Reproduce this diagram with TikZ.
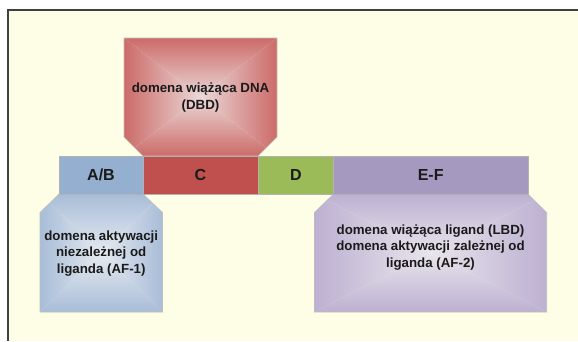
\documentclass[tikz,border=0pt]{standalone}
\usepackage{fontspec}
\setmainfont{Liberation Sans}
\definecolor{bgy}{HTML}{FEFEE6}
\definecolor{framec}{HTML}{404040}
\definecolor{txt}{HTML}{1A1A1A}
\definecolor{abcol}{HTML}{94AFCF}
\definecolor{ccol}{HTML}{C0504D}
\definecolor{dcol}{HTML}{9BBB59}
\definecolor{efcol}{HTML}{A699C0}
\definecolor{redin}{HTML}{EAD8D8}
\definecolor{redout}{HTML}{CC6B68}
\definecolor{bluein}{HTML}{E6EAF0}
\definecolor{blueout}{HTML}{A8BDD8}
\definecolor{purin}{HTML}{E8E5EC}
\definecolor{purout}{HTML}{BDB0D1}
% pyramid (rectangular path) gradient: x1 y1 x2 y2 inner outer clip-path
\newcommand\pyrshade[7]{%
  \begin{scope}
    \clip #7;
    \shade[top color=#6, bottom color=#5] (#1,#2) -- (#3,#2) -- ({(#1+#3)/2},{(#2+#4)/2}) -- cycle;
    \shade[top color=#5, bottom color=#6] (#1,#4) -- (#3,#4) -- ({(#1+#3)/2},{(#2+#4)/2}) -- cycle;
    \shade[left color=#6, right color=#5] (#1,#2) -- (#1,#4) -- ({(#1+#3)/2},{(#2+#4)/2}) -- cycle;
    \shade[left color=#5, right color=#6] (#3,#2) -- (#3,#4) -- ({(#1+#3)/2},{(#2+#4)/2}) -- cycle;
  \end{scope}}
\begin{document}
\begin{tikzpicture}[x=1pt,y=-1pt,
  lbl/.style={font=\bfseries\fontsize{16}{19}\selectfont, text=txt},
  desc/.style={font=\bfseries\fontsize{13.3}{16.5}\selectfont, text=txt, align=center},
  seg/.style={draw=black!30, line width=0.6pt},
  dom/.style={draw=black!25, line width=0.6pt},
]
\useasboundingbox (0,0) rectangle (578,341);
\fill[white] (0,0) rectangle (578,341);
\fill[bgy] (8,10) rectangle (578,341);
\draw[framec, line width=1.4pt] (578,10) -- (8,10) -- (8,341);

% domain shapes
\pyrshade{124}{38}{277}{156}{redin}{redout}{(124,38) -- (277,38) -- (277,137) -- (258,156) -- (143,156) -- (124,137) -- cycle}
\draw[dom] (124,38) -- (277,38) -- (277,137) -- (258,156) -- (143,156) -- (124,137) -- cycle;
\pyrshade{40}{194}{162.5}{312}{bluein}{blueout}{(59,194) -- (143,194) -- (162.5,212.5) -- (162.5,312) -- (40,312) -- (40,212.5) -- cycle}
\draw[dom] (59,194) -- (143,194) -- (162.5,212.5) -- (162.5,312) -- (40,312) -- (40,212.5) -- cycle;
\pyrshade{314.4}{194}{546.7}{312}{purin}{purout}{(333.6,194) -- (527.8,194) -- (546.7,212.5) -- (546.7,312) -- (314.4,312) -- (314.4,212.5) -- cycle}
\draw[dom] (333.6,194) -- (527.8,194) -- (546.7,212.5) -- (546.7,312) -- (314.4,312) -- (314.4,212.5) -- cycle;

% bar segments
\path[seg, fill=abcol] (59,156) rectangle (143,194);
\path[seg, fill=ccol] (143,156) rectangle (258,194);
\path[seg, fill=dcol] (258,156) rectangle (333.6,194);
\path[seg, fill=efcol] (333.6,156) rectangle (527.8,194);

\node[lbl] (ab) at (101,175) {A/B};
\node[lbl] (c) at (200.5,175) {C};
\node[lbl] (d) at (295.8,175) {D};
\node[lbl] (ef) at (430.7,175) {E-F};

\node[desc] (dbd) at (200.5,97.5) {domena wiążąca DNA\\(DBD)};
\node[desc] (af1) at (101.2,253.5) {domena aktywacji\\niezależnej od\\liganda (AF-1)};
\node[desc] (lbd) at (430.5,247.5) {domena wiążąca ligand (LBD)\\domena aktywacji zależnej od\\liganda (AF-2)};
\end{tikzpicture}
\end{document}
